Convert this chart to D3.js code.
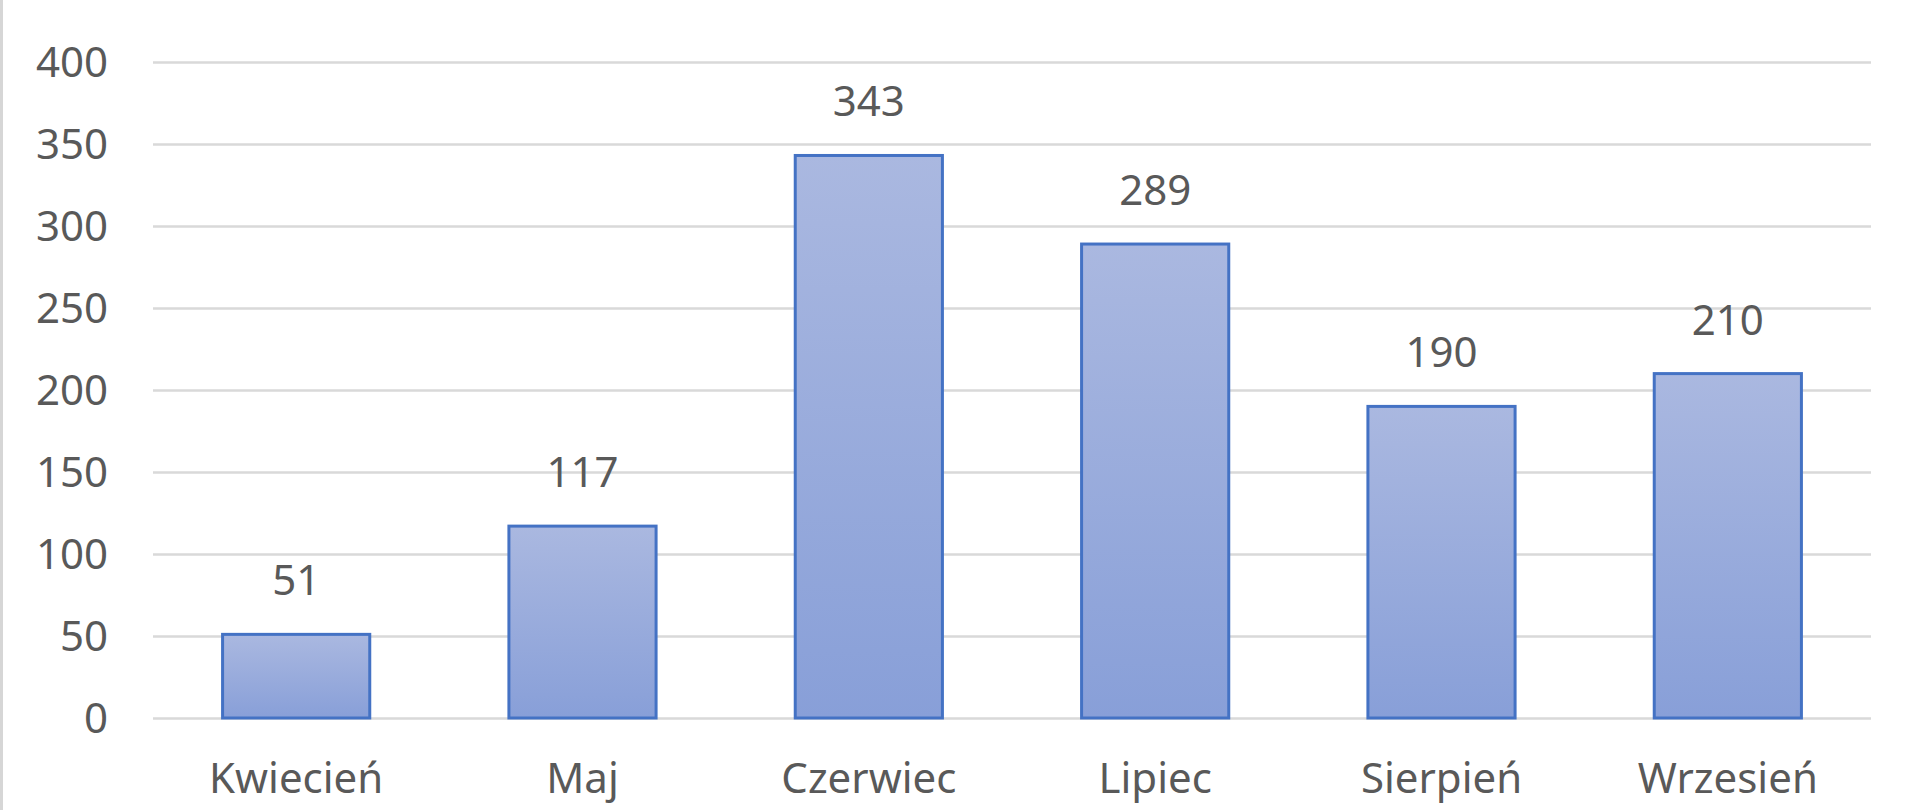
<!DOCTYPE html>
<html>
<head>
<meta charset="utf-8">
<script src="https://cdn.jsdelivr.net/npm/d3@7/dist/d3.min.js"></script>
<style>
html,body{margin:0;padding:0;background:#fff;}
svg{display:block;}
</style>
</head>
<body>
<svg id="chart" width="1920" height="810"></svg>
<script>
const categories = ["Kwiecień","Maj","Czerwiec","Lipiec","Sierpień","Wrzesień"];
const values = [51,117,343,289,190,210];
const yTicks = [0,50,100,150,200,250,300,350,400];

const W = 1920, H = 810;
const margin = {left:153, right:49, top:62, bottom:92};
const svg = d3.select("#chart");

const defs = svg.append("defs");
const grad = defs.append("linearGradient").attr("id","barGrad")
  .attr("x1",0).attr("y1",0).attr("x2",0).attr("y2",1);
grad.append("stop").attr("offset","0%").attr("stop-color","#AAB8E0");
grad.append("stop").attr("offset","100%").attr("stop-color","#889FD8");

// left border
svg.append("rect").attr("x",0).attr("y",0).attr("width",3).attr("height",H).attr("fill","#D6D6D6");

const x = d3.scaleBand().domain(categories).range([margin.left, W - margin.right]).paddingInner(0.486).paddingOuter(0.243);
const y = d3.scaleLinear().domain([0,400]).range([H - margin.bottom, margin.top]);

const font = "'Noto Sans', 'Open Sans', sans-serif";
const textColor = "#595959";

// gridlines
const yAxis = d3.axisLeft(y).tickValues(yTicks).tickSize(-(W - margin.left - margin.right)).tickPadding(45);
const gy = svg.append("g").attr("transform",`translate(${margin.left},0)`).call(yAxis);
gy.select(".domain").remove();
gy.selectAll(".tick line").attr("stroke","#D9D9D9").attr("stroke-width",2.5);
gy.selectAll(".tick text").attr("fill",textColor).style("font-family",font).style("font-size","42px").attr("dy","0.35em");

// bars
svg.append("g").selectAll("rect").data(values).join("rect")
  .attr("x",(d,i)=>x(categories[i]))
  .attr("y",d=>y(d))
  .attr("width",x.bandwidth())
  .attr("height",d=>y(0)-y(d))
  .attr("fill","url(#barGrad)")
  .attr("stroke","#4472C4")
  .attr("stroke-width",3);

// data labels
svg.append("g").selectAll("text").data(values).join("text")
  .attr("x",(d,i)=>x(categories[i]) + x.bandwidth()/2)
  .attr("y",d=>y(d) - 39)
  .attr("text-anchor","middle")
  .attr("fill",textColor)
  .style("font-family",font).style("font-size","42px")
  .text(d=>d);

// x axis labels
const xAxis = d3.axisBottom(x).tickSize(0).tickPadding(0);
const gx = svg.append("g").attr("transform",`translate(0,${y(0)})`).call(xAxis);
gx.select(".domain").remove();
gx.selectAll(".tick text").attr("fill",textColor).style("font-family",font).style("font-size","42px")
  .attr("y",60).attr("dy","0.35em");
</script>
</body>
</html>
